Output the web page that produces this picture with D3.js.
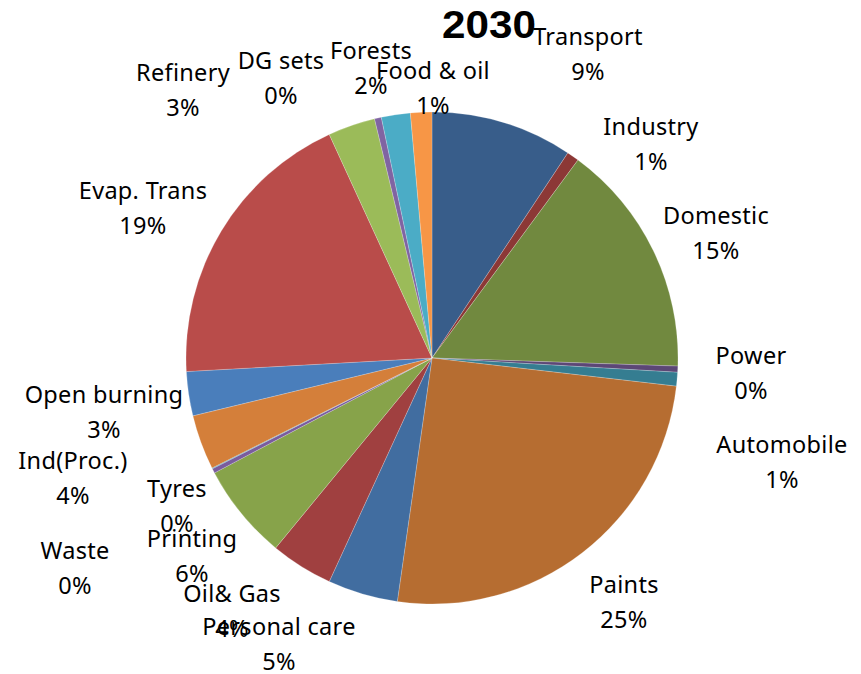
<!DOCTYPE html>
<html>
<head>
<meta charset="utf-8">
<script src="https://cdn.jsdelivr.net/npm/d3@7"></script>
<style>
  html, body { margin: 0; padding: 0; background: #fff; }
  svg { display: block; }
  .lbl { font-family: "Noto Sans", "Open Sans", sans-serif; font-size: 23.5px; letter-spacing: 0.3px; fill: #000; }
  .title { font-family: "Liberation Sans Narrow", "Liberation Sans", sans-serif; font-weight: bold; font-size: 38px; fill: #000; }
</style>
</head>
<body>
<script>
// Emission share by sector, 2030 (clockwise from 12 o'clock)
const categories = [
  "Transport", "Industry", "Domestic", "Power", "Automobile", "Paints",
  "Personal care", "Oil& Gas", "Printing", "Tyres", "Waste", "Ind(Proc.)",
  "Open burning", "Evap. Trans", "Refinery", "DG sets", "Forests", "Food & oil"
];
const values = [
  9.3, 0.8, 15.4, 0.4, 0.9, 25.4,
  4.6, 4.1, 6.3, 0.3, 0.05, 3.6,
  2.9, 19.0, 3.1, 0.45, 1.9, 1.4
];
const colors = [
  "#385D8A", "#8C3836", "#71893F", "#5C4776", "#357D91", "#B66D31",
  "#416DA0", "#A04040", "#87A34A", "#7A5C9E", "#3F97AF", "#D47F3A",
  "#4A7EBB", "#B94C4A", "#9BBB59", "#8064A2", "#4BACC6", "#F79646"
];
const title = "2030";

// Label anchor points (centre of the name line); the percentage sits one line below
const labelAnchors = {
  "Transport": [588, 36], "Industry": [651, 126], "Domestic": [716, 215],
  "Power": [751, 355], "Automobile": [782, 444], "Paints": [624, 584],
  "Personal care": [279, 626], "Oil& Gas": [232, 593], "Printing": [192, 538],
  "Tyres": [177, 488], "Waste": [75, 550], "Ind(Proc.)": [73, 460],
  "Open burning": [104, 394], "Evap. Trans": [143, 190], "Refinery": [183, 72],
  "DG sets": [281, 60], "Forests": [371, 50], "Food & oil": [433, 70]
};
const lineGap = 35;

const W = 861, H = 674;
const cx = 432, cy = 358, R = 246;

const svg = d3.select("body").append("svg").attr("width", W).attr("height", H);

const data = categories.map((c, i) => ({ name: c, value: values[i], color: colors[i] }));
const total = d3.sum(values);
const pct = d3.format(".0%");

const pie = d3.pie().value(d => d.value).sort(null);
const arc = d3.arc().innerRadius(0).outerRadius(R);

const g = svg.append("g").attr("transform", `translate(${cx},${cy})`);
g.selectAll("path").data(pie(data)).join("path")
  .attr("d", arc)
  .attr("fill", d => d.data.color)
  .attr("stroke", "rgba(255,255,255,0.35)")
  .attr("stroke-width", 0.6);

const labels = svg.append("g");
data.forEach(d => {
  const [x, y] = labelAnchors[d.name];
  const t = labels.append("text").attr("class", "lbl").attr("text-anchor", "middle");
  t.append("tspan").attr("x", x).attr("y", y).attr("dominant-baseline", "central").text(d.name);
  t.append("tspan").attr("x", x).attr("y", y + lineGap).attr("dominant-baseline", "central").text(pct(d.value / total));
});

svg.append("text").attr("class", "title")
  .attr("x", 489).attr("y", 38)
  .attr("text-anchor", "middle")
  .attr("textLength", 94)
  .attr("lengthAdjust", "spacingAndGlyphs")
  .text(title);
</script>
</body>
</html>
